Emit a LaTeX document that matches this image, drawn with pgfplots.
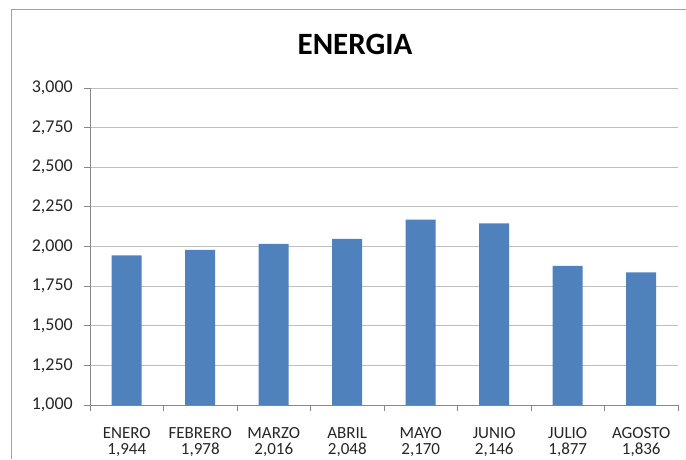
\documentclass[border=0pt]{standalone}
\usepackage{fontspec}
\setmainfont{Carlito}
\usepackage{pgfplots}
\pgfplotsset{compat=1.18}
\definecolor{barblue}{HTML}{4F81BD}
\definecolor{gridgray}{HTML}{BFBFBF}
\definecolor{axisgray}{HTML}{888888}
\definecolor{txt}{HTML}{262626}
\begin{document}
\begin{tikzpicture}[x=1pt,y=1pt]
\path[use as bounding box] (0,0) rectangle (686,459);
\draw[color=axisgray!80, line width=1pt] (11,0) -- (11,449) -- (686,449);
\node[font=\fontsize{31}{36}\selectfont\bfseries, anchor=base, text=black] at (355,404) {ENERGIA};
\begin{axis}[
  at={(90pt,54pt)}, anchor=south west,
  scale only axis, width=588pt, height=317pt,
  xmin=-0.5, xmax=7.5, ymin=1000, ymax=3000,
  ytick={1000,1250,...,3000},
  xtick={0,...,7},
  xticklabels={{ENERO\\[0.5pt]1,944},{FEBRERO\\[0.5pt]1,978},{MARZO\\[0.5pt]2,016},{ABRIL\\[0.5pt]2,048},{MAYO\\[0.5pt]2,170},{JUNIO\\[0.5pt]2,146},{JULIO\\[0.5pt]1,877},{AGOSTO\\[0.5pt]1,836}},
  minor xtick={-0.5,0.5,...,7.5},
  axis x line=bottom, axis y line=left,
  axis line style={-, color=axisgray, line width=0.8pt},
  ymajorgrids, grid style={color=gridgray, line width=0.8pt},
  tick style={color=axisgray, line width=0.8pt},
  tick align=outside,
  major tick length=6pt, minor tick length=6pt,
  x tick style={draw=none},
  minor x tick style={draw=axisgray},
  xminorgrids=false,
  /pgf/number format/assume math mode=true,
  /pgf/number format/.cd, fixed, 1000 sep={,},
  /pgfplots/.cd,
  yticklabel style={font=\fontsize{18}{20}\selectfont, text=txt, anchor=east, inner sep=0pt, xshift=-11pt},
  xticklabel style={font=\fontsize{17}{16}\selectfont, text=txt, align=center, anchor=north, inner sep=0pt, yshift=-16pt},
]
\addplot[ybar, bar width=30pt, fill=barblue, draw=none] coordinates {
(0,1944) (1,1978) (2,2016) (3,2048) (4,2170) (5,2146) (6,1877) (7,1836)};
\end{axis}
\end{tikzpicture}
\end{document}
